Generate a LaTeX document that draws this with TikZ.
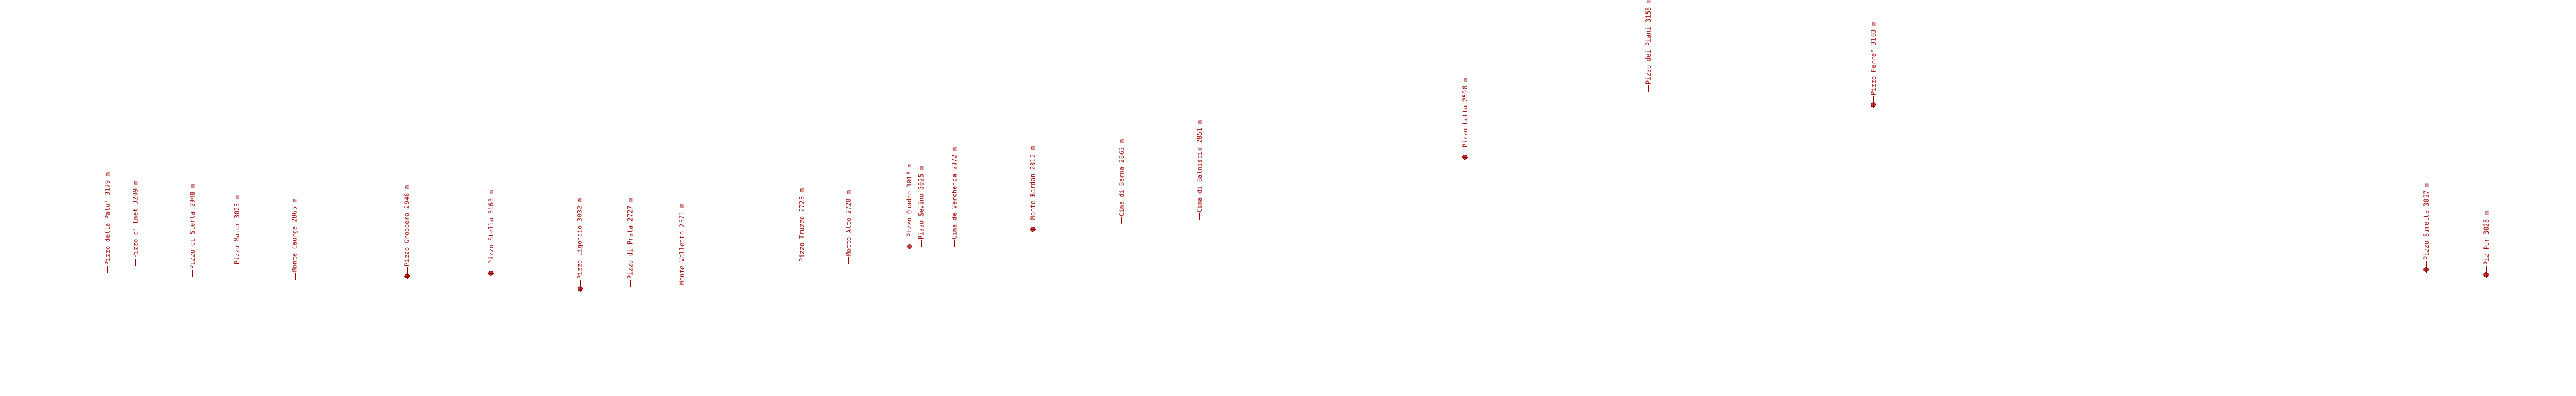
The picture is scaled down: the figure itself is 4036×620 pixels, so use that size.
\documentclass[tikz,border=0pt]{standalone}
\usepackage{fontspec}
\setmonofont{DejaVu Sans Mono}
\usepackage{tikz}
\usetikzlibrary{positioning}
\definecolor{peakred}{HTML}{A00000}
\tikzset{
  peak/.style={rotate=90,anchor=west,inner sep=0.5pt,text=peakred,
    font=\fontsize{10pt}{12pt}\ttfamily},
  tick/.style={draw=peakred,line width=0.8pt},
  summit/.style={circle,draw=peakred,fill=peakred!75,line width=0.9pt,
    minimum size=7pt,inner sep=0pt,
    path picture={\draw[white!60!peakred,line width=0.6pt]
      (path picture bounding box.north) -- (path picture bounding box.south)
      (path picture bounding box.west) -- (path picture bounding box.east);}},
  base/.style={coordinate},
}
\newcommand{\crosshair}[1]{\draw[peakred,line width=0.7pt]
  ([yshift=-5pt]#1.center) -- ([yshift=5pt]#1.center)
  ([xshift=-5pt]#1.center) -- ([xshift=5pt]#1.center);}

\begin{document}
\begin{tikzpicture}[x=1pt,y=-1pt]
\useasboundingbox (0,0) rectangle (4036,620);

% peaks without a summit mark
\node[base] (palu) at (168,427) {};
\node[peak] (paluL) at (168,416) {Pizzo della Palu’ 3179 m};
\node[base] (emet) at (212,416) {};
\node[peak] (emetL) at (212,405) {Pizzo d’ Emet 3209 m};
\node[base] (sterla) at (301,433) {};
\node[peak] (sterlaL) at (301,422) {Pizzo di Sterla 2948 m};
\node[base] (mater) at (371,426) {};
\node[peak] (materL) at (371,415) {Pizzo Mater 3025 m};
\node[base] (caurga) at (462,438) {};
\node[peak] (caurgaL) at (462,427) {Monte Caurga 2865 m};
\node[base] (prata) at (987,449) {};
\node[peak] (prataL) at (987,438) {Pizzo di Prata 2727 m};
\node[base] (valletto) at (1068,458) {};
\node[peak] (vallettoL) at (1068,447) {Monte Valletto 2371 m};
\node[base] (truzzo) at (1256,422) {};
\node[peak] (truzzoL) at (1256,411) {Pizzo Truzzo 2723 m};
\node[base] (motto) at (1329,413) {};
\node[peak] (mottoL) at (1329,402) {Motto Alto 2720 m};
\node[base] (sevino) at (1443,387) {};
\node[peak] (sevinoL) at (1443,376) {Pizzo Sevino 3025 m};
\node[base] (verchenca) at (1495,387) {};
\node[peak] (verchencaL) at (1495,376) {Cima de Verchenca 2872 m};
\node[base] (barna) at (1757,351) {};
\node[peak] (barnaL) at (1757,340) {Cima di Barna 2862 m};
\node[base] (balniscio) at (1879,345) {};
\node[peak] (balniscioL) at (1879,334) {Cima di Balniscio 2851 m};
\node[base] (piani) at (2582,144) {};
\node[peak] (pianiL) at (2582,133) {Pizzo dei Piani 3158 m};

% peaks with a summit mark
\node[summit] (groppera) at (638,432) {};
\node[peak] (gropperaL) at (638,418) {Pizzo Groppera 2948 m};
\node[summit] (stella) at (769,428) {};
\node[peak] (stellaL) at (769,414) {Pizzo Stella 3163 m};
\node[summit] (ligoncio) at (909,452) {};
\node[peak] (ligoncioL) at (909,438) {Pizzo Ligoncio 3032 m};
\node[summit] (quadro) at (1425,386) {};
\node[peak] (quadroL) at (1425,372) {Pizzo Quadro 3015 m};
\node[summit] (bardan) at (1618,359) {};
\node[peak] (bardanL) at (1618,345) {Monte Bardan 2812 m};
\node[summit] (latta) at (2295,246) {};
\node[peak] (lattaL) at (2295,232) {Pizzo Latta 2598 m};
\node[summit] (ferre) at (2935,164) {};
\node[peak] (ferreL) at (2935,150) {Pizzo Ferre’ 3103 m};
\node[summit] (suretta) at (3801,422) {};
\node[peak] (surettaL) at (3801,408) {Pizzo Suretta 3027 m};
\node[summit] (por) at (3895,430) {};
\node[peak] (porL) at (3895,416) {Piz Por 3028 m};

\draw[tick] (palu) -- (paluL.west);
\draw[tick] (emet) -- (emetL.west);
\draw[tick] (sterla) -- (sterlaL.west);
\draw[tick] (mater) -- (materL.west);
\draw[tick] (caurga) -- (caurgaL.west);
\draw[tick] (prata) -- (prataL.west);
\draw[tick] (valletto) -- (vallettoL.west);
\draw[tick] (truzzo) -- (truzzoL.west);
\draw[tick] (motto) -- (mottoL.west);
\draw[tick] (sevino) -- (sevinoL.west);
\draw[tick] (verchenca) -- (verchencaL.west);
\draw[tick] (barna) -- (barnaL.west);
\draw[tick] (balniscio) -- (balniscioL.west);
\draw[tick] (piani) -- (pianiL.west);

\draw[tick] (groppera) -- (gropperaL.west);
\draw[tick] (stella) -- (stellaL.west);
\draw[tick] (ligoncio) -- (ligoncioL.west);
\draw[tick] (quadro) -- (quadroL.west);
\draw[tick] (bardan) -- (bardanL.west);
\draw[tick] (latta) -- (lattaL.west);
\draw[tick] (ferre) -- (ferreL.west);
\draw[tick] (suretta) -- (surettaL.west);
\draw[tick] (por) -- (porL.west);

\crosshair{groppera}
\crosshair{stella}
\crosshair{ligoncio}
\crosshair{quadro}
\crosshair{bardan}
\crosshair{latta}
\crosshair{ferre}
\crosshair{suretta}
\crosshair{por}

\end{tikzpicture}
\end{document}
